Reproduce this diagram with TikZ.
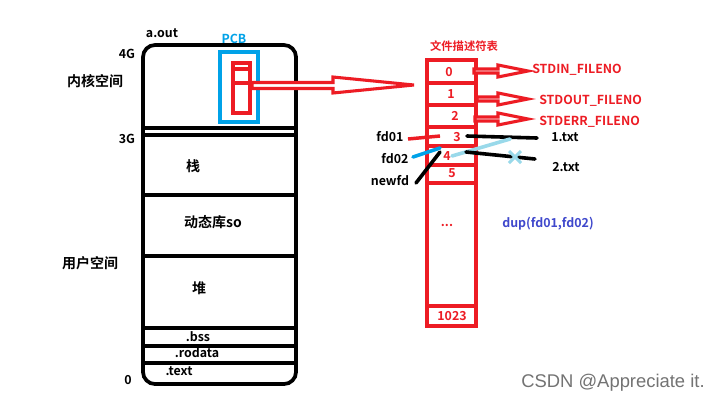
\documentclass[tikz,border=0pt]{standalone}
\usepackage{fontspec}
\setmainfont{Noto Sans CJK SC}[BoldFont={Noto Sans CJK SC Bold}]
\newfontfamily\wmfont{Liberation Sans}
\definecolor{pred}{HTML}{ED1C24}
\definecolor{pblue}{HTML}{00A2E8}
\definecolor{plblue}{HTML}{99D9EA}
\definecolor{pindigo}{HTML}{3F48CC}
\tikzset{
  lbl/.style={font=\bfseries\fontsize{9.3}{10}\selectfont, inner sep=0pt},
  cn/.style={font=\bfseries\fontsize{10.5}{12}\selectfont, inner sep=0pt},
  rtxt/.style={lbl, text=pred},
  memline/.style={line width=2.8pt, black},
  redline/.style={line width=2.6pt, pred},
  hollow/.style={line width=2.3pt, pred, fill=white, line join=miter},
  inkline/.style={line width=2.7pt, line cap=round},
}
\begin{document}
\begin{tikzpicture}[x=0.75pt,y=-0.75pt]
\useasboundingbox[fill=white] (0,0) rectangle (721,405);
% memory layout
\draw[memline, rounded corners=9pt] (143,45) rectangle (296,384);
\foreach \yy in {128,135,195,256,328,346,363}
  \draw[memline] (143,\yy) -- (296,\yy);
% PCB
\draw[line width=2.6pt, pblue] (220,52) rectangle (258,122);
\draw[redline] (233,63) rectangle (250,113);
\draw[redline] (233,69) -- (250,69);
\draw[redline] (233,83) -- (250,83);
% big hollow arrow
\draw[hollow] (252,82.5) -- (333,82.5) -- (333,77) -- (414,85) -- (333,93) -- (333,88.5) -- (252,88.5) -- cycle;
% fd table
\draw[redline] (427,60) rectangle (476,326);
\foreach \yy in {83,105,127,146,165,183,306}
  \draw[redline] (427,\yy) -- (476,\yy);
% small hollow arrows
\draw[hollow] (474,69) -- (498,69) -- (498,65) -- (528,71) -- (498,77) -- (498,73) -- (474,73) -- cycle;
\draw[hollow] (477,97) -- (498,97) -- (498,93) -- (528,99) -- (498,105) -- (498,101) -- (477,101) -- cycle;
\draw[hollow] (475,117) -- (498,117) -- (498,113) -- (528,119) -- (498,125) -- (498,121) -- (475,121) -- cycle;
% labels
\node[lbl] (aout) at (162,33) {a.out};
\node[lbl] (g4) at (127,54) {4G};
\node[cn] (kern) at (95,81) {内核空间};
\node[lbl] (g3) at (127,139) {3G};
\node[cn] (stack) at (193,166) {栈};
\node[cn] (dyn) at (213,222) {动态库so};
\node[cn] (user) at (90,263) {用户空间};
\node[cn] (heap) at (199,288) {堆};
\node[lbl] (bss) at (198,337) {.bss};
\node[lbl] (rod) at (197,353) {.rodata};
\node[lbl] (txt) at (179,371) {.text};
\node[lbl] (zero) at (128,380) {0};
\node[lbl, text=pblue] (pcb) at (234,39) {PCB};
\node[font=\bfseries\fontsize{8.5}{10}\selectfont, inner sep=0pt, text=pred] (fdt) at (464,46) {文件描述符表};
\node[rtxt] (s0) at (449,72) {0};
\node[rtxt] (s1) at (451,94) {1};
\node[rtxt] (s2) at (455,116) {2};
\node[rtxt] (s3) at (457,137) {3};
\node[rtxt] (s4) at (447,156) {4};
\node[rtxt] (s5) at (452,173) {5};
\node[rtxt] (sd) at (447,225) {...};
\node[rtxt] (s1023) at (452,316) {1023};
\node[rtxt, anchor=west] (stdin) at (532,70) {STDIN\_FILENO};
\node[rtxt, anchor=west] (stdout) at (539,101) {STDOUT\_FILENO};
\node[rtxt, anchor=west] (stderr) at (539,122) {STDERR\_FILENO};
\node[lbl] (fd1) at (390,137) {fd01};
\node[lbl] (fd2) at (395,159) {fd02};
\node[lbl] (nfd) at (390,181) {newfd};
\node[lbl] (t1) at (565,137) {1.txt};
\node[lbl] (t2) at (566,167) {2.txt};
\node[lbl, text=pindigo, anchor=west] (dup) at (502,224) {dup(fd01,fd02)};
\node[font=\wmfont\fontsize{13.8}{15}\selectfont, text=black!55, inner sep=0pt] (wm) at (613,383) {CSDN @Appreciate it.};
% fd connectors
\draw[redline] (408,139) -- (440,136);
\draw[inkline, black] (467,136) -- (537,138);
\draw[inkline, plblue] (452,156) -- (510,139);
\draw[inkline, black] (466,152) -- (535,159);
\draw[line width=2.3pt, plblue] (509,151) -- (521,163) (521,151) -- (509,163);
\draw[inkline, pblue] (413,157) -- (440,148);
\draw[inkline, black] (416,183) -- (440,152);
\end{tikzpicture}
\end{document}
